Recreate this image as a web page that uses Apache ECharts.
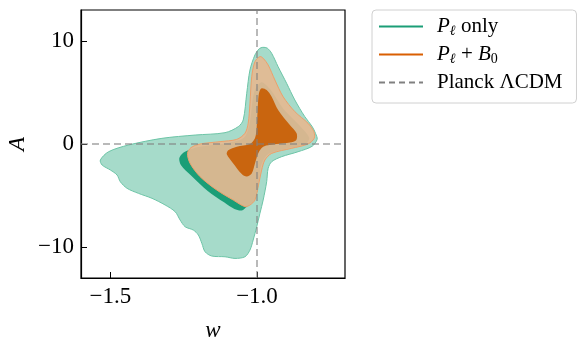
<!DOCTYPE html>
<html>
<head>
<meta charset="utf-8">
<script src="https://cdn.jsdelivr.net/npm/echarts@6/dist/echarts.min.js"></script>
<style>html,body{margin:0;padding:0;background:#fff}#c{width:585px;height:348px}</style>
</head>
<body>
<div id="c"></div>
<script>
// ---- data (w, A) contour vertices ----
var greenOuter = [
 [-0.980, 9.38], [-0.965, 9.30], [-0.950, 8.80], [-0.928, 7.50], [-0.899, 5.89], [-0.871, 4.27],
 [-0.837, 2.65], [-0.812, 1.70], [-0.800, 1.00], [-0.795, 0.45], [-0.812, -0.22], [-0.860, -0.75],
 [-0.916, -1.23], [-0.950, -1.72], [-0.962, -2.36], [-0.967, -3.66], [-0.979, -5.44], [-0.990, -6.73],
 [-1.001, -8.03], [-1.013, -9.32], [-1.024, -10.29], [-1.041, -10.94], [-1.075, -11.10], [-1.109, -10.94],
 [-1.154, -10.87], [-1.177, -10.46], [-1.188, -9.64], [-1.200, -8.83], [-1.217, -8.35], [-1.245, -8.03],
 [-1.262, -7.38], [-1.279, -6.57], [-1.313, -5.92], [-1.358, -5.27], [-1.404, -4.79], [-1.443, -4.30],
 [-1.466, -3.66], [-1.477, -3.01], [-1.500, -2.52], [-1.528, -2.04], [-1.534, -1.55], [-1.506, -0.75],
 [-1.438, -0.10], [-1.324, 0.55], [-1.211, 0.87], [-1.109, 1.10], [-1.064, 1.68], [-1.047, 2.33],
 [-1.035, 4.92], [-1.024, 7.18], [-1.007, 8.64], [-0.992, 9.25]
];
var greenInner = [
 [-0.985, 6.0], [-0.955, 5.3], [-0.91, 3.4], [-0.855, 1.8], [-0.822, 0.6], [-0.835, 0.0], [-0.9, -0.45],
 [-0.96, -0.95], [-0.985, -2.0], [-0.995, -4.0], [-1.008, -5.4], [-1.035, -6.08], [-1.052, -6.45],
 [-1.077, -6.30], [-1.111, -5.68], [-1.168, -4.55], [-1.224, -3.08], [-1.259, -2.06], [-1.265, -1.39],
 [-1.254, -0.91], [-1.236, -0.62], [-1.2, -0.3], [-1.1, 0.1], [-1.045, 0.6], [-1.025, 2.0], [-1.01, 5.0]
];
var orangeOuter = [
 [-0.990, 8.48], [-0.979, 8.32], [-0.962, 7.67], [-0.939, 6.21], [-0.911, 4.59], [-0.871, 3.14],
 [-0.826, 2.01], [-0.806, 1.19], [-0.805, 0.55], [-0.826, 0.0], [-0.882, -0.42], [-0.950, -0.91],
 [-0.973, -1.55], [-0.984, -2.52], [-0.996, -4.14], [-1.007, -5.44], [-1.024, -5.92], [-1.041, -6.08],
 [-1.081, -5.44], [-1.137, -4.47], [-1.194, -3.17], [-1.228, -1.88], [-1.237, -0.91], [-1.225, -0.35],
 [-1.194, 0.0], [-1.126, 0.23], [-1.069, 0.45], [-1.041, 1.04], [-1.030, 2.01], [-1.024, 3.95],
 [-1.018, 6.53], [-1.007, 7.99]
];
var orangeInner = [
 [-0.984, 5.41], [-0.967, 5.24], [-0.950, 4.59], [-0.928, 3.30], [-0.888, 1.84], [-0.865, 1.04],
 [-0.866, 0.40], [-0.888, 0.15], [-0.933, 0.0], [-0.979, -0.26], [-0.996, -0.91], [-1.007, -1.88],
 [-1.018, -2.85], [-1.035, -3.15], [-1.052, -2.90], [-1.081, -1.88], [-1.103, -1.0], [-1.098, -0.60],
 [-1.069, -0.26], [-1.024, 0.0], [-1.007, 0.55], [-1.001, 1.68], [-0.996, 4.27], [-0.992, 5.08]
];
var planckW = -1.0;
var planckA = 0.0;
var xTicks = [-1.5, -1.0];
var yTicks = [-10, 0, 10];
var xRange = [-1.6, -0.7];
var yRange = [-13, 13];
var legendNames = ['Pl only', 'Pl + B0', 'Planck ΛCDM'];
var legendRich = {
 'Pl only': '{it|P}{sub|ℓ}{rm| only}',
 'Pl + B0': '{it|P}{sub|ℓ}{rm| + }{it|B}{subr|0}',
 'Planck ΛCDM': '{rm|Planck ΛCDM}'
};

var FONT = 'Liberation Serif';
function minus(v, d) { var s = d ? Math.abs(v).toFixed(d) : String(Math.abs(v)); return (v < 0 ? '\u2212' : '') + s; }

function polySeries(pts, fill, stroke, z) {
 return {
  type: 'custom', silent: true, z: z, clip: true,
  data: pts, encode: { x: 0, y: 1 },
  renderItem: function (params, api) {
   if (params.dataIndex !== 0) return null;
   var points = pts.map(function (p) { return api.coord(p); });
   return { type: 'polygon', shape: { points: points, smooth: 0.3 },
    style: { fill: fill, stroke: stroke, lineWidth: stroke ? 1 : 0 } };
  }
 };
}

var chart = echarts.init(document.getElementById('c'), null, { renderer: 'canvas' });
var option = {
 animation: false,
 grid: { left: 81, right: 240, top: 10, bottom: 70, show: true, borderColor: '#000', borderWidth: 1.2, backgroundColor: 'transparent' },
 xAxis: {
  type: 'value', min: xRange[0], max: xRange[1],
  name: 'w', nameLocation: 'middle', nameGap: 41,
  nameTextStyle: { fontFamily: FONT, fontStyle: 'italic', fontSize: 23, color: '#000' },
  axisLine: { show: true, onZero: false, lineStyle: { color: '#000', width: 1.2 } },
  axisTick: { show: true, inside: true, length: 6, customValues: xTicks, lineStyle: { color: '#000' } },
  axisLabel: { customValues: xTicks, formatter: function (v) { return minus(v, 1); }, fontFamily: FONT, fontSize: 23, color: '#000', margin: 7 },
  splitLine: { show: false }
 },
 yAxis: {
  type: 'value', min: yRange[0], max: yRange[1],
  name: 'A', nameLocation: 'middle', nameGap: 52, nameRotate: 90,
  nameTextStyle: { fontFamily: FONT, fontStyle: 'italic', fontSize: 23, color: '#000' },
  axisLine: { show: true, onZero: false, lineStyle: { color: '#000', width: 1.2 } },
  axisTick: { show: true, inside: true, length: 6, customValues: yTicks, lineStyle: { color: '#000' } },
  axisLabel: { customValues: yTicks, formatter: function (v) { return minus(v); }, fontFamily: FONT, fontSize: 23, color: '#000', margin: 7 },
  splitLine: { show: false }
 },
 legend: {
  data: legendNames, orient: 'vertical', left: 372, top: 10,
  padding: [6, 14, 10, 6], itemGap: 6,
  itemWidth: 44, itemHeight: 14,
  itemStyle: { opacity: 0 },
  backgroundColor: '#fff', borderColor: '#d0d0d0', borderWidth: 1, borderRadius: 4,
  formatter: function (n) { return legendRich[n]; },
  textStyle: {
   padding: [0, 0, 0, 9],
   rich: {
    it: { fontFamily: FONT, fontStyle: 'italic', fontSize: 21, lineHeight: 23, color: '#000' },
    rm: { fontFamily: FONT, fontSize: 21, lineHeight: 23, color: '#000' },
    sub: { fontFamily: FONT, fontStyle: 'italic', fontSize: 14, lineHeight: 10, verticalAlign: 'bottom', color: '#000' },
    subr: { fontFamily: FONT, fontSize: 14, lineHeight: 10, verticalAlign: 'bottom', color: '#000' }
   }
  }
 },
 series: [
  polySeries(greenOuter, '#a6dbca', '#6cc4a6', 1),
  polySeries(greenInner, '#1b9e77', null, 2),
  polySeries(orangeOuter, 'rgba(227,185,146,0.93)', '#eda06a', 3),
  polySeries(orangeInner, '#c9650f', null, 4),
  { type: 'line', silent: true, z: 5, symbol: 'none', data: [[planckW, yRange[0]], [planckW, yRange[1]]],
    lineStyle: { color: 'rgba(128,128,128,0.55)', width: 2, type: [7, 4] } },
  { type: 'line', silent: true, z: 5, symbol: 'none', data: [[xRange[0], planckA], [xRange[1], planckA]],
    lineStyle: { color: 'rgba(128,128,128,0.55)', width: 2, type: [7, 4] } },
  { name: legendNames[0], type: 'line', symbol: 'none', data: [], color: '#1b9e77', lineStyle: { color: '#1b9e77', width: 2 } },
  { name: legendNames[1], type: 'line', symbol: 'none', data: [], color: '#d95f02', lineStyle: { color: '#d95f02', width: 2 } },
  { name: legendNames[2], type: 'line', symbol: 'none', data: [], color: '#808080', lineStyle: { color: '#808080', width: 2, type: [6, 4] } }
 ]
};
chart.setOption(option);
</script>
</body>
</html>
